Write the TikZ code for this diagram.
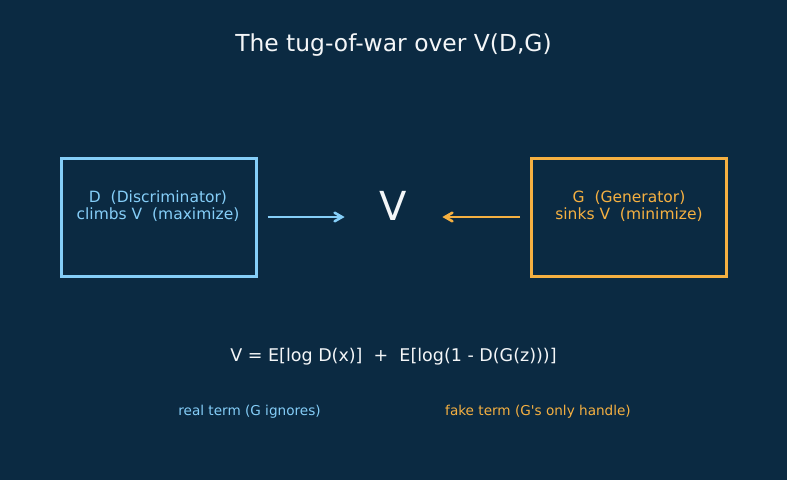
\documentclass[tikz,border=0pt]{standalone}
\usepackage{fontspec}
\setmainfont{DejaVu Sans}
\usetikzlibrary{arrows}
\definecolor{bgnavy}{HTML}{0B2A42}
\definecolor{dblue}{HTML}{85CEF8}
\definecolor{gorange}{HTML}{F5B041}
\definecolor{offwhite}{HTML}{F4F6F8}
\tikzset{
	plain/.style = {
		align=center,
		inner sep=0pt,
		text centered,
		font=\fontsize{15.5}{17}\selectfont
	},
	player/.style = {
		rectangle,
		line width=3pt,
		minimum width=195pt,
		minimum height=118pt,
		inner sep=0pt
	},
	player_d/.style = {
		player,
		draw=dblue
	},
	player_g/.style = {
		player,
		draw=gorange
	},
	pull/.style = {
		->,
		line width=2.6pt,
		shorten <=10pt
	},
	note/.style = {
		plain,
		font=\fontsize{13.6}{16}\selectfont
	},
}

\begin{document}
\begin{tikzpicture}[x=1pt,y=-1pt,>=angle 60]
\fill[bgnavy] (0,0) rectangle (787,480);

\node [plain, offwhite, font=\fontsize{23.4}{27}\selectfont] (title) at (393.5,45) {The tug-of-war over V(D,G)};

% the two players
\node [player_d] (disc) at (158.5,217) {};
\node [player_g] (gen) at (629,217) {};
\node [plain, dblue] (disctext) at (158,206) {D~~(Discriminator)\\climbs V~~(maximize)};
\node [plain, gorange] (gentext) at (629,206) {G~~(Generator)\\sinks V~~(minimize)};

% the value in the middle
\node [plain, offwhite, font=\fontsize{40}{44}\selectfont] (vsym) at (393.5,206) {V};

\draw [pull, dblue, shorten >=35pt] (disc.east) -- (vsym.west |- disc.east);
\draw [pull, gorange, shorten >=35pt] (gen.west) -- (vsym.east |- gen.west);

% objective
\node [plain, offwhite, font=\fontsize{17.5}{20}\selectfont] (formula) at (393.5,356.5) {V = E[log D(x)]~~+~~E[log(1 - D(G(z)))]};
\node [note, dblue] (realterm) at (249.5,411.5) {real term (G ignores)};
\node [note, gorange] (faketerm) at (538,411.5) {fake term (G\textquotesingle s only handle)};
\end{tikzpicture}
\end{document}
